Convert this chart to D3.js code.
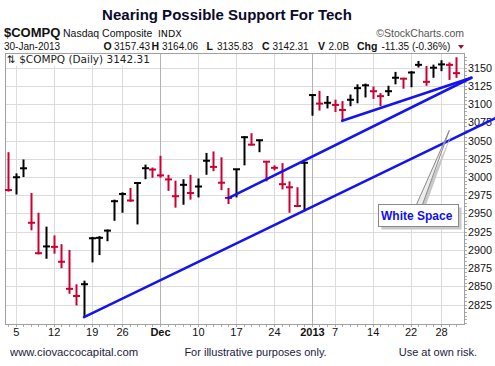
<!DOCTYPE html>
<html><head><meta charset="utf-8">
<script src="https://cdn.jsdelivr.net/npm/d3@7"></script>
<style>
body{margin:0;background:#fff;}
svg{display:block;font-family:"Liberation Sans",Arial,sans-serif;}
</style></head>
<body>
<svg id="chart" width="495" height="366"></svg>
<script>
// ---------- data ----------
const dates = ["2012-11-02","2012-11-05","2012-11-06","2012-11-07","2012-11-08","2012-11-09","2012-11-12","2012-11-13","2012-11-14","2012-11-15","2012-11-16","2012-11-19","2012-11-20","2012-11-21","2012-11-23","2012-11-26","2012-11-27","2012-11-28","2012-11-29","2012-11-30","2012-12-03","2012-12-04","2012-12-05","2012-12-06","2012-12-07","2012-12-10","2012-12-11","2012-12-12","2012-12-13","2012-12-14","2012-12-17","2012-12-18","2012-12-19","2012-12-20","2012-12-21","2012-12-24","2012-12-26","2012-12-27","2012-12-28","2012-12-31","2013-01-02","2013-01-03","2013-01-04","2013-01-07","2013-01-08","2013-01-09","2013-01-10","2013-01-11","2013-01-14","2013-01-15","2013-01-16","2013-01-17","2013-01-18","2013-01-22","2013-01-23","2013-01-24","2013-01-25","2013-01-28","2013-01-29","2013-01-30"];
const highs = [3034,3005,3024,2978,2951,2932,2920,2908,2900,2853,2858,2918,2919,2928,2969,2979,2985,2993,3017,3013,3029,3003,2995,2997,3003,2998,3033,3035,3027,2985,3011,3056,3060,3051,3022,3016,3019,2994,2986,3021,3113,3118,3111,3106,3104,3113,3127,3128,3124,3115,3125,3144,3136,3145,3159,3152,3154,3160,3157,3164.06];
const lows = [2980,2976,3000,2927,2894,2888,2895,2875,2840,2824,2809,2883,2893,2912,2940,2951,2966,2935,2997,2999,2999,2981,2958,2962,2969,2972,3003,3008,2982,2963,2972,3016,3043,3034,2994,3009,2983,2951,2960,2953,3084,3091,3094,3089,3078,3097,3101,3109,3107,3097,3111,3127,3121,3123,3150,3125,3136,3145,3133,3135.83];
const closes = [2982.13,2999.66,3011.93,2937.29,2895.58,2904.87,2904.26,2883.89,2846.81,2836.94,2853.13,2916.07,2916.68,2926.55,2966.85,2976.78,2967.79,2991.78,3012.03,3010.24,3002.20,2996.69,2973.70,2989.27,2978.04,2986.96,3022.30,3013.81,2992.16,2971.33,3010.60,3054.53,3044.36,3050.39,3021.01,3012.60,2990.16,2985.91,2960.31,3019.51,3112.26,3100.57,3101.66,3098.81,3091.81,3105.81,3121.76,3125.63,3117.50,3110.78,3117.54,3136.00,3134.71,3143.18,3153.67,3130.38,3149.71,3154.30,3153.66,3142.31];
const prevClose = 3020.06;

const xTickDates  = ["2012-11-05","2012-11-12","2012-11-19","2012-11-26","2012-12-03","2012-12-10","2012-12-17","2012-12-24","2013-01-02","2013-01-07","2013-01-14","2013-01-22","2013-01-28"];
const xTickLabels = ["5","12","19","26","Dec","10","17","24","2013","7","14","22","28"];
const xTickMajor  = [false,false,false,false,true,false,false,false,true,false,false,false,false];
const yTicks = [2825,2850,2875,2900,2925,2950,2975,3000,3025,3050,3075,3100,3125,3150];

// trend lines: [date index, value] pairs (extend past last bar)
const trendLower  = [[10, 2808], [64.1, 3080.4]];
const trendMiddle = [[29, 2971], [61.0, 3136]];
const trendUpper  = [[44, 3077], [61.0, 3136]];
const calloutTip = [3064, 58.1]; // value, date index (on the lower trend line)

// ---------- layout ----------
const L = 5, T = 53, R = 464, B = 324;
const svg = d3.select("#chart");
const x = d3.scaleLinear().domain([0, dates.length - 1]).range([8.1, 456.2]);
const y = d3.scaleLinear().domain([2798.6, 3169.9]).range([B, T]);
const idx = d => dates.indexOf(d);

// plot background
svg.append("rect").attr("x", L).attr("y", T).attr("width", R - L).attr("height", B - T).attr("fill", "#fff");

// horizontal grid
svg.append("g").selectAll("line").data(yTicks).join("line")
  .attr("x1", L).attr("x2", R).attr("y1", d => Math.round(y(d)) + 0.5).attr("y2", d => Math.round(y(d)) + 0.5)
  .attr("stroke", "#dcdcdc").attr("stroke-width", 1);

// vertical grid
svg.append("g").selectAll("line").data(xTickDates).join("line")
  .attr("x1", d => Math.round(x(idx(d))) + 0.5).attr("x2", d => Math.round(x(idx(d))) + 0.5)
  .attr("y1", T).attr("y2", B)
  .attr("stroke", (d, i) => xTickMajor[i] ? "#b4b4b4" : "#dcdcdc").attr("stroke-width", 1);

// label box at top-left of plot
svg.append("rect").attr("x", L + 0.5).attr("y", T + 0.5).attr("width", 153).attr("height", 12).attr("fill", "#fff");
svg.append("text").attr("x", 7).attr("y", 63).attr("font-family", "DejaVu Sans, Verdana, sans-serif")
  .attr("font-size", 10.5).attr("fill", "#222").text("\u21C5 $COMPQ (Daily) 3142.31");

// plot border
svg.append("rect").attr("x", L + 0.5).attr("y", T + 0.5).attr("width", R - L).attr("height", B - T)
  .attr("fill", "none").attr("stroke", "#a0a0a0");

// x minor ticks (each trading day)
svg.append("g").selectAll("line").data(dates).join("line")
  .attr("x1", (d, i) => Math.round(x(i)) + 0.5).attr("x2", (d, i) => Math.round(x(i)) + 0.5)
  .attr("y1", B + 1).attr("y2", B + 3).attr("stroke", "#aaa");

// y minor ticks on right axis
svg.append("g").selectAll("line").data(d3.range(2800, 3170, 5)).join("line")
  .attr("x1", R + 1).attr("x2", R + 3).attr("y1", d => Math.round(y(d)) + 0.5).attr("y2", d => Math.round(y(d)) + 0.5)
  .attr("stroke", "#aaa");

// x labels
svg.append("g").selectAll("text").data(xTickDates).join("text")
  .attr("x", d => x(idx(d)) + 0.5).attr("y", 336).attr("text-anchor", "middle")
  .attr("font-size", 11).attr("font-weight", (d, i) => xTickMajor[i] ? "bold" : "normal")
  .attr("fill", "#111").text((d, i) => xTickLabels[i]);

// y labels
svg.append("g").selectAll("text").data(yTicks).join("text")
  .attr("x", 468).attr("y", d => y(d) + 4).attr("font-size", 10.8).attr("fill", "#111").text(d => d);

// bars
const red = "#cc0033";
const bars = svg.append("g");
dates.forEach((d, i) => {
  const pc = i === 0 ? prevClose : closes[i - 1];
  const col = closes[i] < pc ? red : "#000";
  const cx = Math.round(x(i)) + 0.5;
  bars.append("line").attr("x1", cx).attr("x2", cx).attr("y1", y(highs[i])).attr("y2", y(lows[i]))
    .attr("stroke", col).attr("stroke-width", 2);
  bars.append("line").attr("x1", cx - 3.5).attr("x2", cx + 3.5).attr("y1", y(closes[i])).attr("y2", y(closes[i]))
    .attr("stroke", col).attr("stroke-width", 2);
});

// trend lines
const tl = d3.line().x(p => x(p[0])).y(p => y(p[1]));
[trendLower, trendMiddle, trendUpper].forEach(t => {
  svg.append("path").attr("d", tl(t)).attr("fill", "none").attr("stroke", "#1414f0").attr("stroke-width", 2.6)
    .attr("stroke-linecap", "round");
});

// callout "White Space"
const tipX = x(calloutTip[1]), tipY = y(calloutTip[0]);
const bx = 378.5, by = 204.5, bw = 80, bh = 22;
svg.append("polygon").attr("points", `${bx+41},${by+2} ${tipX+3},${tipY+2} ${bx+47},${by+2}`).attr("fill", "#c8c8c8");
svg.append("polygon").attr("points", `${bx+38},${by} ${tipX},${tipY} ${bx+44},${by}`)
  .attr("fill", "#ececec").attr("stroke", "#8a8a8a").attr("stroke-width", 1);
svg.append("rect").attr("x", bx + 3).attr("y", by + 3).attr("width", bw).attr("height", bh).attr("fill", "#c8c8c8");
svg.append("rect").attr("x", bx).attr("y", by).attr("width", bw).attr("height", bh)
  .attr("fill", "#fff").attr("stroke", "#8a8a8a");
svg.append("text").attr("x", bx + 2.5).attr("y", by + 15.5).attr("font-size", 12).attr("font-weight", "bold")
  .attr("fill", "#1010ee").text("White Space");

// ---------- header ----------
svg.append("text").attr("x", 227).attr("y", 20).attr("text-anchor", "middle").attr("font-size", 15)
  .attr("font-weight", "bold").attr("fill", "#0a0a2a").text("Nearing Possible Support For Tech");
svg.append("text").attr("x", 4).attr("y", 37).attr("font-size", 13).attr("font-weight", "bold").attr("fill", "#111").text("$COMPQ");
svg.append("text").attr("x", 63).attr("y", 37).attr("font-size", 10.5).attr("fill", "#111").text("Nasdaq Composite");
svg.append("text").attr("x", 158).attr("y", 37).attr("font-size", 9.5).attr("font-family", "DejaVu Sans, Verdana, sans-serif").attr("fill", "#111").text("INDX");
svg.append("text").attr("x", 464).attr("y", 37).attr("text-anchor", "end").attr("font-size", 10.5).attr("fill", "#555").text("\u00A9StockCharts.com");

const hdr = [
  {t: "30-Jan-2013", x: 4, b: false},
  {t: "O", x: 103.5, b: true}, {t: "3157.43", x: 114, b: false},
  {t: "H", x: 151.5, b: true}, {t: "3164.06", x: 162, b: false},
  {t: "L", x: 206.5, b: true}, {t: "3135.83", x: 217, b: false},
  {t: "C", x: 262, b: true}, {t: "3142.31", x: 272.5, b: false},
  {t: "V", x: 318, b: true}, {t: "2.0B", x: 328.5, b: false},
  {t: "Chg", x: 357, b: true}, {t: "-11.35 (-0.36%)", x: 381.5, b: false}
];
svg.append("g").selectAll("text").data(hdr).join("text")
  .attr("x", d => d.x).attr("y", 49.5).attr("font-size", d => d.b ? 10.5 : 10)
  .attr("font-weight", d => d.b ? "bold" : "normal").attr("fill", "#111").text(d => d.t);
svg.append("path").attr("d", "M458,45 L464,45 L461,49 Z").attr("fill", "#a01030");

// ---------- footer ----------
svg.append("text").attr("x", 10).attr("y", 356).attr("font-size", 11.3).attr("fill", "#1a1a40").text("www.ciovaccocapital.com");
svg.append("text").attr("x", 255.5).attr("y", 356).attr("text-anchor", "middle").attr("font-size", 11).attr("fill", "#1a1a40").text("For illustrative purposes only.");
svg.append("text").attr("x", 477).attr("y", 356).attr("text-anchor", "end").attr("font-size", 11).attr("fill", "#1a1a40").text("Use at own risk.");
</script>
</body></html>
